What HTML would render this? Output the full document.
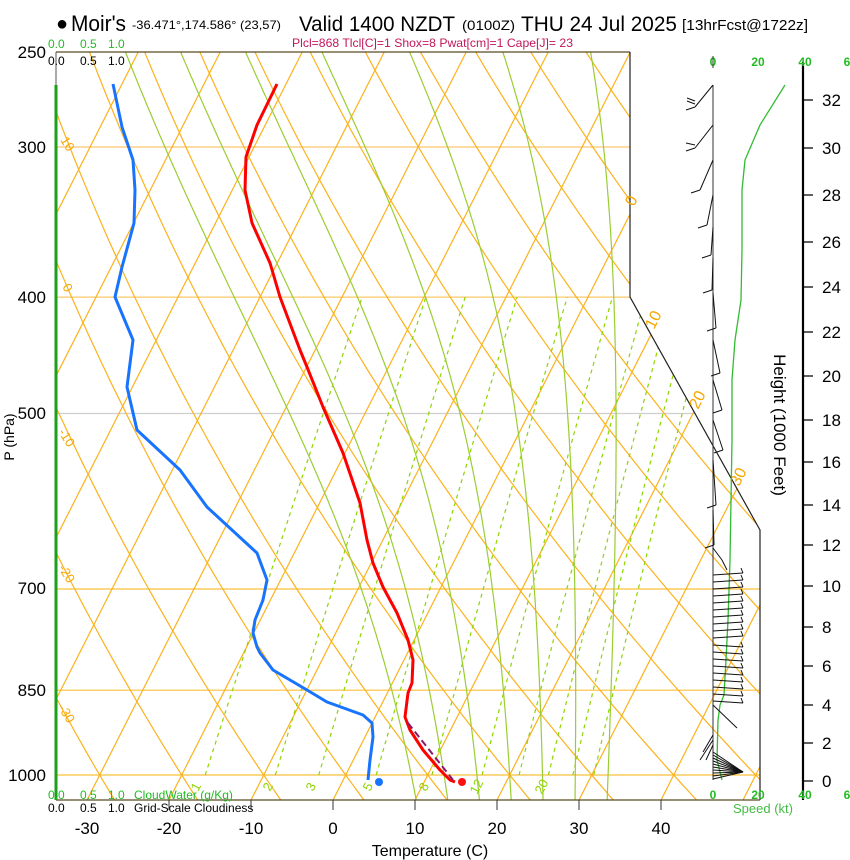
<!DOCTYPE html>
<html><head><meta charset="utf-8">
<style>
html,body{margin:0;padding:0;background:#fff;}
svg{display:block;font-family:"Liberation Sans",sans-serif;}
</style></head><body>
<svg id="s" width="850" height="860" viewBox="0 0 850 860" xmlns="http://www.w3.org/2000/svg">
<defs><clipPath id="c"><path d="M56,52 L630,52 L630,297 L760,530 L760,800 L56,800 Z"/></clipPath></defs>
<rect width="850" height="860" fill="#fff"/>
<g id="grid" clip-path="url(#c)"></g>
<path d="M56,52 L630,52" stroke="#5a4a20" stroke-width="1.2"/>
<path d="M630,52 L630,297 L760,530 L760,800" stroke="#222" stroke-width="1.2" fill="none"/>
<path d="M56,800 L760,800" stroke="#5a4a20" stroke-width="1.2"/>
<path d="M56,52 L56,85" stroke="#555" stroke-width="1"/>
<path d="M56,85 L56,800" stroke="#1aa01a" stroke-width="3"/>
<text x="56" y="30" font-size="20">●</text>
<text x="71" y="31" font-size="22" textLength="55" lengthAdjust="spacingAndGlyphs">Moir's</text>
<text x="132" y="29" font-size="12" textLength="149" lengthAdjust="spacingAndGlyphs">-36.471°,174.586° (23,57)</text>
<text x="299" y="31" font-size="21" textLength="156" lengthAdjust="spacingAndGlyphs">Valid 1400 NZDT</text>
<text x="462" y="30" font-size="14" textLength="53" lengthAdjust="spacingAndGlyphs">(0100Z)</text>
<text x="521" y="31" font-size="21" textLength="156" lengthAdjust="spacingAndGlyphs">THU 24 Jul 2025</text>
<text x="682" y="30" font-size="15" textLength="126" lengthAdjust="spacingAndGlyphs">[13hrFcst@1722z]</text>
<text x="292" y="47" font-size="12" fill="#c0185a" textLength="281" lengthAdjust="spacingAndGlyphs">Plcl=868 Tlcl[C]=1 Shox=8 Pwat[cm]=1 Cape[J]= 23</text>
<g font-size="12" fill="#22bb22">
<text x="48" y="48">0.0</text><text x="80" y="48">0.5</text><text x="108" y="48">1.0</text>
<text x="48" y="799">0.0</text><text x="80" y="799">0.5</text><text x="108" y="799">1.0</text>
<text x="134" y="799">CloudWater (g/Kg)</text>
</g>
<g font-size="12" fill="#000">
<text x="48" y="65">0.0</text><text x="80" y="65">0.5</text><text x="108" y="65">1.0</text>
<text x="48" y="812">0.0</text><text x="80" y="812">0.5</text><text x="108" y="812">1.0</text>
<text x="134" y="812">Grid-Scale Cloudiness</text>
</g>
<g font-size="17" text-anchor="end">
<text x="46" y="58">250</text><text x="46" y="153">300</text><text x="46" y="303">400</text>
<text x="46" y="419">500</text><text x="46" y="594">700</text><text x="46" y="696">850</text>
<text x="46" y="781">1000</text>
</g>
<text transform="translate(14,437) rotate(-90)" font-size="14" text-anchor="middle">P (hPa)</text>
<g font-size="17" text-anchor="middle">
<text x="87" y="834">-30</text><text x="169" y="834">-20</text><text x="251" y="834">-10</text>
<text x="333" y="834">0</text><text x="415" y="834">10</text><text x="497" y="834">20</text>
<text x="579" y="834">30</text><text x="661" y="834">40</text>
</g>
<g stroke="#333" stroke-width="1">
<path d="M333,800v10M415,800v10M497,800v10M579,800v10M661,800v10M251,800v10M169,800v10"/>
</g>
<text x="430" y="856" font-size="16" text-anchor="middle">Temperature (C)</text>
<path d="M803,62 L803,800" stroke="#000" stroke-width="2.2"/>
<g stroke="#000" stroke-width="1.2">
<path d="M803,781h10M803,743h10M803,705h10M803,666h10M803,627h10M803,586h10M803,545h10M803,505h10M803,462h10M803,420h10M803,376h10M803,332h10M803,287h10M803,242h10M803,195h10M803,148h10M803,100h10"/>
</g>
<g font-size="17">
<text x="822" y="787">0</text><text x="822" y="749">2</text><text x="822" y="711">4</text>
<text x="822" y="672">6</text><text x="822" y="633">8</text><text x="822" y="592">10</text>
<text x="822" y="551">12</text><text x="822" y="511">14</text><text x="822" y="468">16</text>
<text x="822" y="426">18</text><text x="822" y="382">20</text><text x="822" y="338">22</text>
<text x="822" y="293">24</text><text x="822" y="248">26</text><text x="822" y="201">28</text>
<text x="822" y="154">30</text><text x="822" y="106">32</text>
</g>
<text transform="translate(774,425) rotate(90)" font-size="17" text-anchor="middle">Height (1000 Feet)</text>
<g font-size="12" fill="#22bb22" font-weight="bold" text-anchor="middle">
<text x="713" y="66">0</text><text x="758" y="66">20</text><text x="805" y="66">40</text><text x="847" y="66">6</text>
<text x="713" y="799">0</text><text x="758" y="799">20</text><text x="805" y="799">40</text><text x="847" y="799">6</text>
</g>
<text x="733" y="813" font-size="13" fill="#44bb44">Speed (kt)</text>
<path d="M713,85 L713,780" stroke="#333" stroke-width="1"/>
<path d="M713,56 L713,68" stroke="#333" stroke-width="1"/>
<g font-size="16" fill="#f5a800">
<text transform="translate(634,207) rotate(-63)">0</text>
<text transform="translate(654,330) rotate(-63)">10</text>
<text transform="translate(698,410) rotate(-63)">20</text>
<text transform="translate(739,487) rotate(-63)">30</text>
</g>
<g font-size="13" fill="#f5a800">
<text transform="translate(60,140) rotate(58)">10</text>
<text transform="translate(62,287) rotate(58)">0</text>
<text transform="translate(58,432) rotate(58)">-10</text>
<text transform="translate(58,568) rotate(58)">-20</text>
<text transform="translate(58,708) rotate(58)">-30</text>
</g>
<g font-size="13" fill="#8fd400">
<text transform="translate(198,792) rotate(-62)">1</text>
<text transform="translate(270,792) rotate(-62)">2</text>
<text transform="translate(313,792) rotate(-62)">3</text>
<text transform="translate(370,792) rotate(-62)">5</text>
<text transform="translate(426,792) rotate(-62)">8</text>
<text transform="translate(477,795) rotate(-62)">12</text>
<text transform="translate(542,795) rotate(-62)">20</text>
</g>
<polyline fill="none" stroke="#1874ff" stroke-width="3" stroke-linejoin="round" points="113,84 122,127 133,160 135,190 134,223 122,267 115,297 133,340 127,387 137,430 180,470 207,507 257,553 267,580 263,600 255,620 253,633 257,647 260,653 273,670 307,690 327,702 363,715 372,723 373,737 370,760 368,780"/>
<polyline fill="none" stroke="#ff0000" stroke-width="3" stroke-linejoin="round" points="277,84 257,125 246,157 245,190 252,223 270,263 280,297 300,350 307,367 323,407 343,453 360,503 367,540 373,563 383,587 397,613 408,640 413,660 412,683 408,693 405,717 410,730 423,750 440,770 450,780 455,782"/>
<path d="M408,723 L453,780" stroke="#8b1a6b" stroke-width="2" stroke-dasharray="7,4"/>
<circle cx="379" cy="782" r="4" fill="#1874ff"/>
<circle cx="462" cy="782" r="4" fill="#ff1010"/>
<polyline fill="none" stroke="#33bb33" stroke-width="1.3" points="785,85 760,125 745,160 742,190 742,250 741,300 735,340 732,380 732,440 731,500 730,560 728,620 726,660 724,695 720,705 718,720 717,760 722,780"/>
<g id="barbs" stroke="#111" stroke-width="1" fill="none"></g>
<script>
(function(){
var NS="http://www.w3.org/2000/svg";
function Y(p){return 775-521.6*Math.log(1000/p);}
function X(T,p){return 333+8.2*T+0.507*(800-Y(p));}
var g=document.getElementById('grid');
function line(pts,col,w,dash,parent){var e=document.createElementNS(NS,'polyline');e.setAttribute('points',pts.map(function(a){return a[0].toFixed(1)+','+a[1].toFixed(1);}).join(' '));e.setAttribute('fill','none');e.setAttribute('stroke',col);e.setAttribute('stroke-width',w);if(dash)e.setAttribute('stroke-dasharray',dash);(parent||g).appendChild(e);}
[[300,'#f9c86a'],[400,'#f9c86a'],[500,'#cfcfcf'],[700,'#fbbf3a'],[850,'#fbbf3a'],[1000,'#fbbf3a']].forEach(function(a){var y=Y(a[0]);line([[56,y],[760,y]],a[1],1.2);});
var OR='#fbb21c';
for(var T=-150;T<=60;T+=10){line([[X(T,1060),Y(1060)],[X(T,240),Y(240)]],OR,1.2);}
for(var th=-50;th<=220;th+=10){var pts=[];for(var p=1060;p>=240;p-=10){var Tk=(th+273.15)*Math.pow(p/1000,0.286)-273.15;pts.push([X(Tk,p),Y(p)]);}line(pts,OR,1.2);}
[1,2,3,5,8,12,16,20,24,28].forEach(function(w){var pts=[];for(var p=1000;p>=400;p-=10){var e=w*p/(622+w);var l=Math.log(e/6.112);var T=243.5*l/(17.67-l);pts.push([X(T,p),Y(p)]);}line(pts,'#8fd400',1.2,'4,4');});
function dTdp(T,p){var es=6.112*Math.exp(17.67*(T-273.15)/(T-29.65));var rs=0.622*es/(p-es);return (287*T+2.5e6*rs)/(p*(1004+2.5e6*2.5e6*rs*0.622/(287*T*T)));}
[8,12,16,20,24,28,32].forEach(function(tw){var up=[];var Tt=tw+273.15;for(var pp=1000;pp<=1060;pp+=2){up.push([X(Tt-273.15,pp),Y(pp)]);Tt+=dTdp(Tt,pp)*2;}up.reverse();var pts=up;var T=tw+273.15;for(var p=1000;p>=240;p-=2){pts.push([X(T-273.15,p),Y(p)]);T-=dTdp(T,p)*2;}line(pts,'#9acd32',1.2);});
var bg=document.getElementById('barbs');
function seg(a,c,d,e){line([[a,c],[d,e]],'#111',1,null,bg);}
var up=[[85,695,107],[125,695,148],[160,700,190],[195,707,225],[227,711,255],[258,712,290],[293,716,328],[340,720,373],[380,722,410],[420,723,450],[460,716,505],[510,714,545]];
up.forEach(function(u){seg(713,u[0],u[1],u[2]);seg(u[1],u[2],u[1]-9,u[2]+3);});
seg(695,104,687,101);seg(695,101,687,98);seg(695,145,686,143);
seg(713,548,722,560);seg(722,560,727,570);
for(var y=575;y<=702;y+=7){var e=y+(y<640?-2:2);seg(713,y,743,e);seg(743,e,741,e-5);}
seg(713,705,737,728);
for(var y2=752;y2<=781;y2+=3){seg(713,y2,743,772);}
seg(713,735,703,752);seg(713,740,700,760);seg(713,745,706,760);
})();
</script>
</svg>
</body></html>
